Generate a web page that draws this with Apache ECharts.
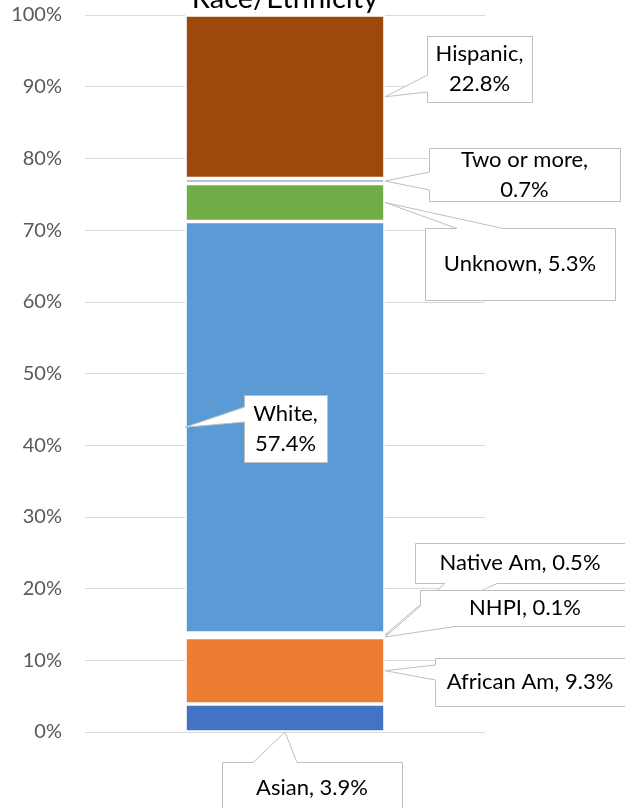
<!DOCTYPE html>
<html><head><meta charset="utf-8">
<script src="https://cdn.jsdelivr.net/npm/echarts@6/dist/echarts.min.js"></script>
<style>html,body{margin:0;padding:0;background:#fff}#c{width:625px;height:808px}</style>
</head><body><div id="c"></div>
<script>
// ---- data ----
const chartTitle = 'Race/Ethnicity';
const categories = ['Students'];
const groups = ['Asian', 'African Am', 'NHPI', 'Native Am', 'White', 'Unknown', 'Two or more', 'Hispanic'];
const shares = [3.9, 9.3, 0.1, 0.5, 57.4, 5.3, 0.7, 22.8];
const yTickLabels = ['0%', '10%', '20%', '30%', '40%', '50%', '60%', '70%', '80%', '90%', '100%'];

// ---- styles / layout ----
const colors = ['#4472C4', '#ED7D31', '#A5A5A5', '#FFC000', '#5B9BD5', '#70AD47', '#9FB0CE', '#9E480E'];
const FONT = 'Lato, "Open Sans", sans-serif';
const BAR_FRAC = 0.5;
// callout boxes in pixels: [x, y, w, h]; side where pointer leaves; base points; anchor on bar
const calloutLayout = [
  { anchor: 'base',  box: [222, 762, 180, 60], textH: 52, side: 'top',    base: [253, 297], wrap: false, layer: 10 },
  { anchor: 'right', box: [435, 658, 190, 48], side: 'left',   base: [665, 680], wrap: false, layer: 10 },
  { anchor: 'right', box: [420, 590, 210, 36], side: 'corner', base: [606, 455], wrap: false, layer: 20 },
  { anchor: 'right', box: [415, 543, 210, 40], side: 'bottom', base: [445, 497], wrap: false, layer: 0 },
  { anchor: 'left',  box: [244, 395, 83, 67],  side: 'left',   base: [407, 422], wrap: true,  layer: 10 },
  { anchor: 'right', box: [425, 228, 190, 72], side: 'top',    base: [457, 503], wrap: false, layer: 10 },
  { anchor: 'right', box: [429, 148, 191, 53], side: 'left',   base: [172, 190], wrap: true,  layer: 10 },
  { anchor: 'right', box: [427, 36, 105, 66],  side: 'left',   base: [75, 92],   wrap: true,  layer: 10 }
];

function calloutPolygon(box, side, base, tip) {
  const x = box[0] + 0.5, y = box[1] + 0.5, r = box[0] + box[2] + 0.5, b = box[1] + box[3] + 0.5;
  switch (side) {
    case 'left':   return [[x, y], [r, y], [r, b], [x, b], [x, base[1]], tip, [x, base[0]]];
    case 'top':    return [[x, y], [base[0], y], tip, [base[1], y], [r, y], [r, b], [x, b]];
    case 'bottom': return [[x, y], [r, y], [r, b], [base[1], b], tip, [base[0], b], [x, b]];
    case 'corner': return [[x, y], [r, y], [r, b], [base[1], b], tip, [x, base[0]]];
  }
}

// cumulative ranges (derived from shares)
const ranges = [];
let acc = 0;
shares.forEach((v, i) => { ranges.push([0, acc, acc + v]); acc += v; });

const series = groups.map((g, i) => ({
  name: g,
  type: 'bar',
  stack: 'total',
  barWidth: (BAR_FRAC * 100) + '%',
  data: [shares[i]],
  itemStyle: { color: colors[i], borderColor: '#ffffff', borderWidth: 1.8 },
  emphasis: { disabled: true },
  z: 2
}));

series.push({
  type: 'custom',
  clip: false,
  z: 5,
  silent: true,
  data: ranges,
  encode: { x: 0, y: [1, 2] },
  renderItem: function (params, api) {
    const i = params.dataIndex;
    const L = calloutLayout[i];
    const start = api.value(1), end = api.value(2);
    const bandW = api.size([1, 0])[0];
    const half = bandW * BAR_FRAC / 2;
    const mid = api.coord([api.value(0), (start + end) / 2]);
    let tip;
    if (L.anchor === 'right') tip = [mid[0] + half, mid[1]];
    else if (L.anchor === 'left') tip = [mid[0] - half, mid[1]];
    else tip = api.coord([api.value(0), start]);
    const pts = calloutPolygon(L.box, L.side, L.base, tip);
    const text = groups[i] + (L.wrap ? ',\n' : ', ') + shares[i].toFixed(1) + '%';
    const boxH = L.textH || L.box[3];
    return {
      type: 'group',
      children: [
        { type: 'polygon', shape: { points: pts }, z2: L.layer,
          style: { fill: '#ffffff', stroke: '#BFBFBF', lineWidth: 1 } },
        { type: 'text', x: L.box[0] + L.box[2] / 2, y: L.box[1] + boxH / 2, z2: L.layer + 1,
          style: { text: text, align: 'center', verticalAlign: 'middle', fill: '#000000',
                   font: '22px ' + FONT, lineHeight: 30 } }
      ]
    };
  }
});

const chart = echarts.init(document.getElementById('c'), null, { renderer: 'canvas' });
chart.setOption({
  animation: false,
  backgroundColor: '#ffffff',
  graphic: [{
    type: 'text', x: 285, y: 13, z: 10,
    style: { text: chartTitle, align: 'center', verticalAlign: 'bottom', fill: '#000000', font: '29px ' + FONT }
  }],
  grid: { left: 85, right: 140, top: 15, bottom: 76, containLabel: false },
  xAxis: {
    type: 'category', data: categories,
    axisLine: { show: false }, axisTick: { show: false }, axisLabel: { show: false }
  },
  yAxis: {
    type: 'value', min: 0, max: 100, interval: 10,
    axisLine: { show: false }, axisTick: { show: false },
    axisLabel: { formatter: v => yTickLabels[Math.round(v / 10)], color: '#595959', margin: 23,
                 fontFamily: FONT, fontSize: 20 },
    splitLine: { lineStyle: { color: '#D9D9D9', width: 1 } }
  },
  series: series
});
</script></body></html>
